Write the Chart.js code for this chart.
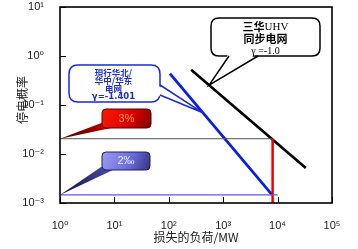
<!DOCTYPE html>
<html><head><meta charset="utf-8">
<script src="https://cdn.jsdelivr.net/npm/chart.js@4.4.1/dist/chart.umd.min.js"></script>
<style>html,body{margin:0;padding:0;background:#fff}#wrap{width:358px;height:249px}</style>
</head><body><div id="wrap"><canvas id="c" width="358" height="249"></canvas></div>
<script>
// ---- data ----
const xTickValues = [1, 10, 100, 1000, 10000, 100000];
const xTickLabels = ['10⁰', '10¹', '10²', '10³', '10⁴', '10⁵'];
const yTickValues = [0.001, 0.01, 0.1, 1, 10];
const yTickLabels = ['10⁻³', '10⁻²', '10⁻¹', '10⁰', '10¹'];
const sanhuaX = [257, 33000];
const sanhuaY = [0.525, 0.0052];
const xianxingX = [105, 7940];
const xianxingY = [0.437, 0.00146];
const redX = [8100, 8100];
const redY = [0.0205, 0.001];
const limit3X = [1, 8100];
const limit3Y = [0.0205, 0.0205];
const limit2X = [1, 10000];
const limit2Y = [0.00146, 0.00146];
const xTitle = '损失的负荷/MW';
const yTitle = '停电概率';

const pts = (xs, ys) => xs.map((x, i) => ({x, y: ys[i]}));

function rr(ctx, x, y, w, h, r) {
  ctx.beginPath();
  ctx.moveTo(x + r, y);
  ctx.lineTo(x + w - r, y); ctx.quadraticCurveTo(x + w, y, x + w, y + r);
  ctx.lineTo(x + w, y + h - r); ctx.quadraticCurveTo(x + w, y + h, x + w - r, y + h);
  ctx.lineTo(x + r, y + h); ctx.quadraticCurveTo(x, y + h, x, y + h - r);
  ctx.lineTo(x, y + r); ctx.quadraticCurveTo(x, y, x + r, y);
  ctx.closePath();
}

const deco = {
  id: 'deco',
  afterDatasetsDraw(chart) {
    const {ctx, chartArea: a, scales: {x, y}} = chart;
    ctx.save();
    // frame
    ctx.strokeStyle = '#000'; ctx.lineWidth = 1.6;
    ctx.strokeRect(a.left, a.top, a.right - a.left, a.bottom - a.top);
    // inward ticks
    ctx.lineWidth = 1;
    xTickValues.forEach(v => { const px = Math.round(x.getPixelForValue(v)) + 0.5;
      ctx.beginPath(); ctx.moveTo(px, a.bottom); ctx.lineTo(px, a.bottom - 6); ctx.stroke(); });
    yTickValues.forEach(v => { const py = Math.round(y.getPixelForValue(v)) + 0.5;
      ctx.beginPath(); ctx.moveTo(a.left, py); ctx.lineTo(a.left + 6, py); ctx.stroke(); });

    // --- black callout (三华UHV) ---
    let tip = {x: x.getPixelForValue(550), y: 0};
    tip.y = y.getPixelForValue(sanhuaY[0] * Math.pow(550 / sanhuaX[0], -0.95));
    let bx = 211, by = 18, bw = 109, bh = 38;
    ctx.fillStyle = '#fff'; ctx.strokeStyle = '#000'; ctx.lineWidth = 1.5;
    rr(ctx, bx, by, bw, bh, 8); ctx.fill(); ctx.stroke();
    ctx.beginPath(); ctx.moveTo(229, by + bh - 3); ctx.lineTo(tip.x, tip.y); ctx.lineTo(258, by + bh - 3); ctx.closePath(); ctx.fill();
    ctx.beginPath(); ctx.moveTo(229, by + bh); ctx.lineTo(tip.x, tip.y); ctx.lineTo(258, by + bh); ctx.stroke();
    ctx.fillStyle = '#000'; ctx.textAlign = 'center'; ctx.textBaseline = 'middle';
    ctx.font = 'bold 11px "Noto Sans CJK SC"';
    const w1 = ctx.measureText('三华').width;
    ctx.font = '11px "Liberation Serif"';
    const w2 = ctx.measureText('UHV').width;
    const cx = bx + bw / 2, sx = cx - (w1 + w2) / 2;
    ctx.textAlign = 'left';
    ctx.font = 'bold 11px "Noto Sans CJK SC"'; ctx.fillText('三华', sx, 27);
    ctx.font = '11px "Liberation Serif"'; ctx.fillText('UHV', sx + w1, 27.5);
    ctx.textAlign = 'center';
    ctx.font = 'bold 11px "Noto Sans CJK SC"'; ctx.fillText('同步电网', cx, 39);
    ctx.font = '10px "Liberation Serif"'; ctx.fillText('γ =-1.0', cx, 51);

    // --- blue callout (现行) ---
    const tx = 424;
    tip = {x: x.getPixelForValue(tx), y: y.getPixelForValue(xianxingY[0] * Math.pow(tx / xianxingX[0], Math.log10(xianxingY[1] / xianxingY[0]) / Math.log10(xianxingX[1] / xianxingX[0])))};
    bx = 69; by = 65; bw = 91; bh = 37;
    ctx.fillStyle = '#fff'; ctx.strokeStyle = '#1a2ad8'; ctx.lineWidth = 1.5;
    rr(ctx, bx, by, bw, bh, 9); ctx.fill(); ctx.stroke();
    ctx.beginPath(); ctx.moveTo(bx + bw - 3, 85); ctx.lineTo(tip.x, tip.y); ctx.lineTo(bx + bw - 3, 95); ctx.closePath(); ctx.fill();
    ctx.beginPath(); ctx.moveTo(bx + bw, 85); ctx.lineTo(tip.x, tip.y); ctx.lineTo(bx + bw, 95); ctx.stroke();
    ctx.fillStyle = '#1f2fc8';
    ctx.font = 'bold 8.5px "Noto Sans CJK SC"';
    const bcx = bx + bw / 2 - 1;
    ctx.fillText('現行华北/', bcx, 73);
    ctx.fillText('华中/华东', bcx, 81);
    ctx.fillText('电网', bcx, 88.5);
    ctx.font = 'bold 8.5px "DejaVu Sans"';
    ctx.fillText('γ=-1.401', bcx, 96.5);

    // --- red 3% callout ---
    tip = {x: x.getPixelForValue(1), y: y.getPixelForValue(limit3Y[0])};
    bx = 102; by = 109; bw = 49; bh = 19;
    let g = ctx.createLinearGradient(tip.x, tip.y, 115, 122);
    g.addColorStop(0, '#300000'); g.addColorStop(1, '#e00000');
    ctx.fillStyle = g;
    ctx.beginPath(); ctx.moveTo(bx + 2, 122); ctx.lineTo(tip.x, tip.y); ctx.lineTo(116, by + bh - 1); ctx.closePath(); ctx.fill();
    g = ctx.createLinearGradient(bx, by, bx + bw, by + bh);
    g.addColorStop(0, '#ff1a00'); g.addColorStop(0.6, '#d80000'); g.addColorStop(1, '#7a0000');
    ctx.fillStyle = g; ctx.strokeStyle = '#600000'; ctx.lineWidth = 1;
    rr(ctx, bx, by, bw, bh, 4); ctx.fill(); ctx.stroke();
    ctx.fillStyle = '#ffa048'; ctx.font = '11px "Liberation Sans"';
    ctx.fillText('3%', bx + bw / 2, 119);

    // --- blue 2‰ callout ---
    tip = {x: x.getPixelForValue(1), y: y.getPixelForValue(limit2Y[0])};
    bx = 102; by = 152; bw = 48; bh = 18;
    g = ctx.createLinearGradient(tip.x, tip.y, 115, 165);
    g.addColorStop(0, '#101030'); g.addColorStop(1, '#5050b8');
    ctx.fillStyle = g;
    ctx.beginPath(); ctx.moveTo(bx + 2, 165); ctx.lineTo(tip.x, tip.y); ctx.lineTo(115, by + bh - 1); ctx.closePath(); ctx.fill();
    g = ctx.createLinearGradient(bx, by, bx + bw, by + bh);
    g.addColorStop(0, '#9a9cf4'); g.addColorStop(0.6, '#6a6ad8'); g.addColorStop(1, '#32327e');
    ctx.fillStyle = g; ctx.strokeStyle = '#202060'; ctx.lineWidth = 1;
    rr(ctx, bx, by, bw, bh, 4); ctx.fill(); ctx.stroke();
    ctx.fillStyle = '#e8e8ff'; ctx.font = '11px "Liberation Sans"';
    ctx.fillText('2‰', bx + bw / 2, 161);

    // axis titles
    ctx.fillStyle = '#222';
    ctx.font = '12px "Noto Sans CJK SC"';
    ctx.fillText(xTitle, (a.left + a.right) / 2, 237);
    ctx.translate(22, 100); ctx.rotate(-Math.PI / 2);
    ctx.fillText(yTitle, 0, 0);
    ctx.restore();
  }
};

new Chart(document.getElementById('c'), {
  type: 'scatter',
  data: {
    datasets: [
      {data: pts(limit3X, limit3Y), borderColor: '#555', borderWidth: 1},
      {data: pts(limit2X, limit2Y), borderColor: '#5a5ae0', borderWidth: 1.2},
      {data: pts(redX, redY), borderColor: '#ee0000', borderWidth: 2.5},
      {data: pts(sanhuaX, sanhuaY), borderColor: '#000', borderWidth: 2.6},
      {data: pts(xianxingX, xianxingY), borderColor: '#0a1ee6', borderWidth: 2.8}
    ].map(d => Object.assign(d, {showLine: true, pointRadius: 0, pointHoverRadius: 0, fill: false}))
  },
  options: {
    responsive: false, animation: false, devicePixelRatio: 1,
    layout: {padding: {left: 0, top: 7, right: 26, bottom: 0}},
    plugins: {legend: {display: false}, tooltip: {enabled: false}},
    scales: {
      x: {
        type: 'logarithmic', min: 1, max: 100000,
        afterBuildTicks: s => { s.ticks = xTickValues.map(v => ({value: v})); },
        afterFit: s => { s.height = 46; s.paddingLeft = 0; s.paddingRight = 0; },
        grid: {display: false}, border: {display: false},
        ticks: {autoSkip: false, maxRotation: 0, padding: 8, color: '#222',
          font: {family: '"Liberation Sans", "DejaVu Sans"', size: 11},
          callback: v => xTickLabels[xTickValues.indexOf(v)] ?? ''}
      },
      y: {
        type: 'logarithmic', min: 0.001, max: 10,
        afterBuildTicks: s => { s.ticks = yTickValues.map(v => ({value: v})); },
        afterFit: s => { s.width = 60; s.paddingTop = 0; s.paddingBottom = 0; },
        grid: {display: false}, border: {display: false},
        ticks: {autoSkip: false, padding: 8, color: '#222',
          font: {family: '"Liberation Sans", "DejaVu Sans"', size: 11},
          callback: v => yTickLabels[yTickValues.indexOf(v)] ?? ''}
      }
    }
  },
  plugins: [deco]
});
</script></body></html>
